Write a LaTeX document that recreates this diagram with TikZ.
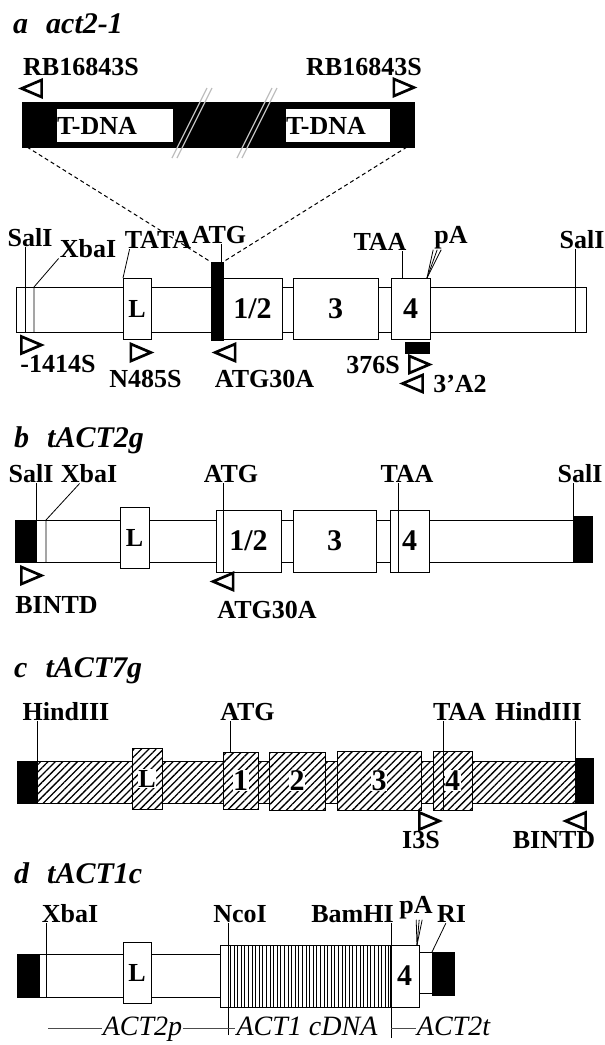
\documentclass[tikz,border=0pt]{standalone}
\usepackage{fontspec}
\setmainfont{Liberation Serif}
\usetikzlibrary{positioning,shapes.geometric,patterns.meta}

\begin{document}
\begin{tikzpicture}[x=1pt,y=-1pt,
      lbl/.style={font=\fontsize{26}{28}\selectfont\bfseries,inner sep=1pt,anchor=base},
      ital/.style={font=\fontsize{28}{30}\selectfont\itshape,inner sep=1pt,anchor=base},
      ttl/.style={font=\fontsize{30}{32}\selectfont\bfseries\itshape,inner sep=0pt,anchor=base west},
      bb/.style={draw,line width=0.9pt,fill=white,inner sep=0pt,outer sep=0pt},
      exon/.style={bb,font=\fontsize{30}{32}\selectfont\bfseries},
      lex/.style={bb,font=\fontsize{26}{28}\selectfont\bfseries},
      blk/.style={draw,fill=black,inner sep=0pt,outer sep=0pt},
      tdna/.style={fill=white,inner sep=0pt,minimum height=33pt,text width=#1,align=left,
                   font=\fontsize{26}{28}\selectfont\bfseries},
      hatch/.style={bb,postaction={pattern={Lines[angle=45,distance=5.2pt,line width=1.3pt]}}},
      stripes/.style={bb,postaction={pattern={Lines[angle=90,distance=3.6pt,line width=1pt]}}},
      hnum/.style={fill=white,inner sep=0.5pt,font=\fontsize{30}{32}\selectfont\bfseries},
      prR/.style={isosceles triangle,isosceles triangle stretches,draw,line width=2.7pt,
                  minimum height=20pt,minimum width=17pt,inner sep=0pt},
      prL/.style={prR,shape border rotate=180},
      tick/.style={line width=0.8pt},
      dsh/.style={dash pattern=on 4pt off 3pt,line width=1pt},
      brk/.style={gray!50,line width=1.3pt},
      bar/.style={line width=0.6pt,black!70}]
    \useasboundingbox (0,0) rectangle (605,1045);

    % a act2-1
    \node[ttl] (aTitle) at (13,33) {a\hspace{0.6em}act2-1};
    \node[lbl] (aRB1t) at (81,75)  {RB16843S};
    \node[lbl] (aRB2t) at (364,75) {RB16843S};
    \node[prL] (aRB1) at (36,88.5) {};
    \node[prR] (aRB2) at (399.5,87.5) {};
    \node[blk,minimum width=392pt,minimum height=45pt] (aIns) at (218,124.5) {};
    \node[tdna=116pt] (aTD1) at (115,125.5) {T-DNA};
    \node[tdna=104pt] (aTD2) at (338,125.5) {T-DNA};
    \foreach \bx in {172,237}
      \foreach \dx in {0,5}
        \draw[brk] (\bx+\dx,158) -- (\bx+\dx+35,88);

    \node[bb,minimum width=570pt,minimum height=45pt] (aBack) at (301,309.5) {};
    \node[lbl] (aSal1) at (30,246)  {SalI};
    \node[lbl] (aXba)  at (88,257)  {XbaI};
    \node[lbl] (aTATA) at (158,248) {TATA};
    \node[lbl] (aATG)  at (219,243) {ATG};
    \node[lbl] (aTAA)  at (380,250) {TAA};
    \node[lbl] (aPA)   at (451,243) {pA};
    \node[lbl] (aSal2) at (582,248) {SalI};
    \node[lex,minimum width=28pt,minimum height=61pt] (aL) at (137,308.5) {L};
    \node[blk,minimum width=12pt,minimum height=78pt] (aATGb) at (217,301) {};
    \node[exon,minimum width=59pt,minimum height=61pt] (a12) at (252.5,308.5) {1/2};
    \node[exon,minimum width=85pt,minimum height=61pt] (a3)  at (335.5,308.5) {3};
    \node[exon,minimum width=39pt,minimum height=61pt] (a4)  at (410.5,308.5) {4};

    \draw[dsh] ([xshift=5pt]aIns.south west) -- (aATGb.north west);
    \draw[dsh] ([xshift=-7pt]aIns.south east) -- (aATGb.north east);

    \coordinate (aSalB) at (25,332);
    \coordinate (aXbaB) at (34,332);
    \coordinate (aSal2B) at (575,332);
    \draw[tick] (aSalB) -- (aSalB |- aSal1.south);
    \draw[tick] (aXbaB) -- (aXbaB |- aBack.north) -- (aXba.south west);
    \draw[tick] (aL.north west) -- ([xshift=6pt]aTATA.south west);
    \draw[tick] ([xshift=4pt]aATGb.north) -- ([xshift=4pt]aATGb.north |- aATG.south);
    \draw[tick] ([xshift=-8.5pt]a4.north) -- ([xshift=-8.5pt]a4.north |- aTAA.south);
    \foreach \d in {0,4,8}
      \draw[tick] ([xshift=-3pt]a4.north east) -- ([xshift=\d pt]aPA.south west);
    \draw[tick] (aSal2B) -- (aSal2B |- aSal2.south);

    \node[prR] (aP1) at (27,345) {};
    \node[lbl] (aP1t) at (58,372) {-1414S};
    \node[prR] (aP2) at (136.5,352.5) {};
    \node[lbl] (aP2t) at (145.5,387) {N485S};
    \node[prL] (aP3) at (229.5,352.5) {};
    \node[lbl] (aP3t) at (264.5,387) {ATG30A};
    \node[blk,minimum width=24pt,minimum height=11pt] (aProbe) at (417,347.5) {};
    \node[lbl] (aP4t) at (373,373) {376S};
    \node[prR] (aP4) at (415,364.5) {};
    \node[prL] (aP5) at (417,383.5) {};
    \node[lbl] (aP5t) at (460,392) {3'A2};

    % b tACT2g
    \node[ttl] (bTitle) at (14,447) {b\hspace{0.6em}tACT2g};
    \node[bb,minimum width=577pt,minimum height=42pt] (bBack) at (303.5,541) {};
    \node[blk,minimum width=21pt,minimum height=42pt] (bBlkL) at (25.5,541) {};
    \node[blk,minimum width=19pt,minimum height=45pt] (bBlkR) at (582.5,538.5) {};
    \node[lbl] (bSal1) at (31,482)  {SalI};
    \node[lbl] (bXba)  at (89,482)  {XbaI};
    \node[lbl] (bATG)  at (231,482) {ATG};
    \node[lbl] (bTAA)  at (407,482) {TAA};
    \node[lbl] (bSal2) at (580,482) {SalI};
    \node[lex,minimum width=29pt,minimum height=61pt] (bL) at (134.5,537.5) {L};
    \node[exon,minimum width=65pt,minimum height=62pt] (b12) at (248.5,541) {1/2};
    \node[exon,minimum width=83pt,minimum height=62pt] (b3)  at (334.5,541) {3};
    \node[exon,minimum width=39pt,minimum height=62pt] (b4)  at (409.5,541) {4};

    \coordinate (bXbaB) at (46,562);
    \draw[tick] (bBlkL.north east) -- (bBlkL.north east |- bSal1.south);
    \draw[tick] (bXbaB) -- (bXbaB |- bBack.north) -- ([xshift=20pt]bXba.south west);
    \draw[tick] ([xshift=7pt]b12.south west) -- ([xshift=7pt]b12.south west |- bATG.south);
    \draw[tick] ([xshift=8pt]b4.south west) -- ([xshift=8pt]b4.south west |- bTAA.south);
    \draw[tick] (bBlkR.north west) -- (bBlkR.north west |- bSal2.south);

    \node[prR] (bP1) at (27,575.5) {};
    \node[lbl] (bP1t) at (56.5,613) {BINTD};
    \node[prL] (bP2) at (227.5,581.5) {};
    \node[lbl] (bP2t) at (267,618) {ATG30A};

    % c tACT7g
    \node[ttl] (cTitle) at (14,677) {c\hspace{0.6em}tACT7g};
    \node[hatch,minimum width=576pt,minimum height=42pt] (cBack) at (305,782) {};
    \node[blk,minimum width=20pt,minimum height=42pt] (cBlkL) at (27,782) {};
    \node[blk,minimum width=18pt,minimum height=45pt] (cBlkR) at (584,780.5) {};
    \node[lbl] (cHind1) at (66,720)    {HindIII};
    \node[lbl] (cATG)   at (247.5,720) {ATG};
    \node[lbl] (cTAA)   at (459.5,720) {TAA};
    \node[lbl] (cHind2) at (538.5,720) {HindIII};
    \node[hatch,minimum width=30pt,minimum height=61pt,
          label={[hnum,font=\fontsize{26}{28}\selectfont\bfseries]center:L}] (cL) at (147,778.5) {};
    \node[hatch,minimum width=35pt,minimum height=57pt,label={[hnum]center:1}] (c1) at (240.5,780.5) {};
    \node[hatch,minimum width=56pt,minimum height=58pt,label={[hnum]center:2}] (c2) at (297,781) {};
    \node[hatch,minimum width=84pt,minimum height=59pt,label={[hnum]center:3}] (c3) at (379,780.5) {};
    \node[hatch,minimum width=39pt,minimum height=59pt,label={[hnum]center:4}] (c4) at (452.5,780.5) {};

    \draw[tick] (cBlkL.north east) -- (cBlkL.north east |- cHind1.south);
    \draw[tick] ([xshift=7pt]c1.north west) -- ([xshift=7pt]c1.north west |- cATG.south);
    \draw[tick] ([xshift=10pt]c4.south west) -- ([xshift=10pt]c4.south west |- cTAA.south);
    \draw[tick] (cBlkR.north west) -- (cBlkR.north west |- cHind2.south);

    \node[prR] (cP1) at (425,821) {};
    \node[lbl] (cP1t) at (421,848) {I3S};
    \node[prL] (cP2) at (580,821) {};
    \node[lbl] (cP2t) at (554,848) {BINTD};

    % d tACT1c
    \node[ttl] (dTitle) at (14,883) {d\hspace{0.6em}tACT1c};
    \node[bb,minimum width=203pt,minimum height=43pt] (dBack) at (118.5,975.5) {};
    \node[blk,minimum width=22pt,minimum height=43pt] (dBlkL) at (28,975.5) {};
    \node[lex,minimum width=28pt,minimum height=61pt] (dL) at (137,972.5) {L};
    \node[bb,minimum width=8pt,minimum height=62pt] (dUTR) at (224,976) {};
    \node[stripes,minimum width=162pt,minimum height=62pt] (dCDNA) at (309,976) {};
    \node[exon,minimum width=29pt,minimum height=62pt] (d4) at (404.5,976) {4};
    \node[bb,minimum width=13pt,minimum height=41pt] (dLink) at (425.5,972.5) {};
    \node[blk,minimum width=22pt,minimum height=43pt] (dBlkR) at (443,973.5) {};
    \node[lbl] (dXba) at (70,922)    {XbaI};
    \node[lbl] (dNco) at (240,922)   {NcoI};
    \node[lbl] (dBam) at (352.5,922) {BamHI};
    \node[lbl] (dPA)  at (416,913)   {pA};
    \node[lbl] (dRI)  at (451.5,922) {RI};

    \coordinate (dXbaB) at (46,997);
    \coordinate (dNcoB) at (228,1035);
    \coordinate (dBamB) at (391,1038);
    \draw[tick] (dXbaB) -- (dXbaB |- dXba.south);
    \draw[tick] (dNcoB) -- (dNcoB |- dNco.south);
    \draw[tick] (dBamB) -- (dBamB |- dBam.south);
    \foreach \d in {18,21,24}
      \draw[tick] ([xshift=-2pt]d4.north east) -- ([xshift=\d pt]dPA.south west);
    \draw[tick] (dBlkR.north west) -- ([xshift=10pt]dRI.south west);

    \node[ital] (dP) at (142.5,1035) {ACT2p};
    \node[ital] (dC) at (307,1035)   {ACT1 cDNA};
    \node[ital] (dT) at (453.5,1035) {ACT2t};
    \coordinate (dStart) at (48,1030);
    \draw[bar] (dP.west -| dStart) -- (dP.west);
    \draw[bar] (dP.east) -- (dP.east -| dC.west);
    \draw[bar] (dP.east -| dBamB) -- (dP.east -| dT.west);
  \end{tikzpicture}
\end{document}
